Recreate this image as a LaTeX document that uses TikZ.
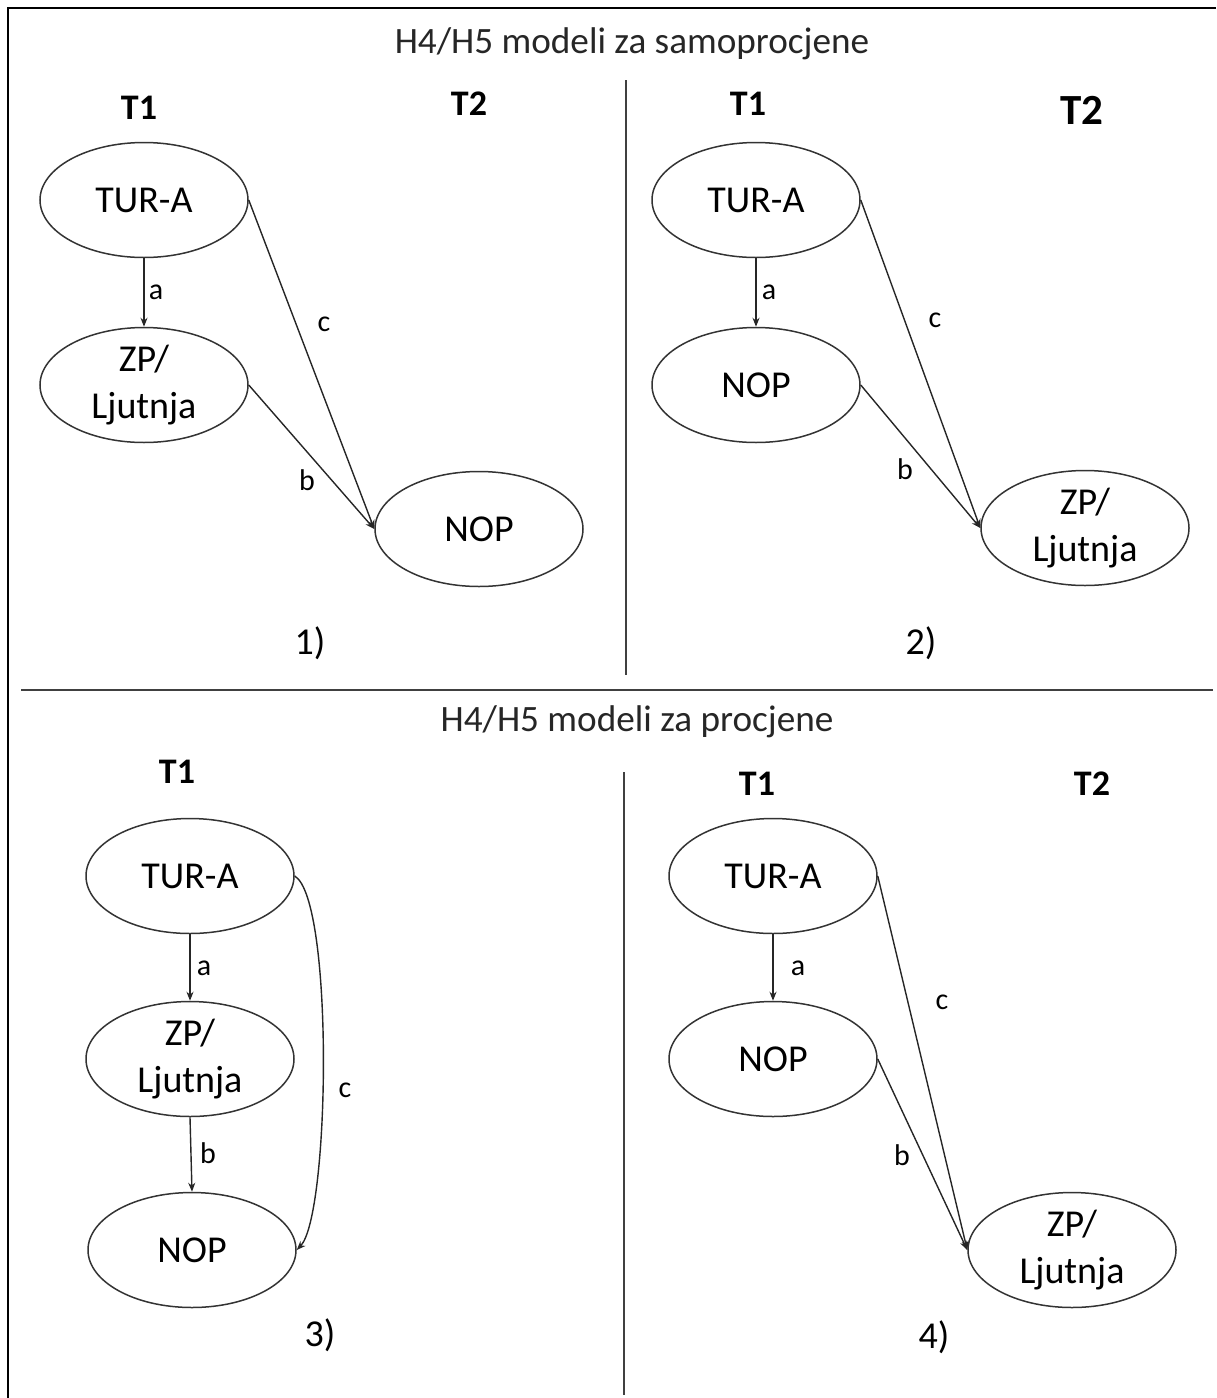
\documentclass[tikz,border=0pt]{standalone}
\usepackage{fontspec}
\setmainfont{Carlito}
\usetikzlibrary{shapes.geometric,arrows.meta}
\tikzset{
  ell/.style={ellipse,draw=black!80,line width=0.75pt,minimum width=104pt,minimum height=57.5pt,inner sep=0pt,align=center,font=\fontsize{19}{23.5}\selectfont},
  arr/.style={draw=black!85,line width=0.7pt,-{Stealth[length=4.5pt,width=3.5pt]}},
  lab/.style={font=\fontsize{15}{17}\selectfont},
  tlab/.style={font=\fontsize{18}{20}\selectfont\bfseries},
  ttl/.style={font=\fontsize{18.6}{22}\selectfont,text=black!85},
  num/.style={font=\fontsize{19}{22}\selectfont},
  frame/.style={line width=1.1pt,black},
  divider/.style={line width=0.8pt,black!75}
}
\begin{document}
\begin{tikzpicture}[x=0.5pt,y=-0.5pt]
\useasboundingbox (0,0) rectangle (1216,1398);
% frame
\draw[frame] (8,1398) -- (8,8) -- (1216,8);
\draw[divider] (21,690) -- (1213,690);
\draw[divider] (626,80) -- (626,675);
\draw[divider] (624,772) -- (624,1395);
% titles
\node[ttl] (title1) at (632,44) {H4/H5 modeli za samoprocjene};
\node[ttl] (title2) at (637,722) {H4/H5 modeli za procjene};

% Panel 1
\node[tlab] (p1t1) at (139,108) {T1};
\node[tlab] (p1t2) at (469,104) {T2};
\node[ell] (p1tur) at (144,200) {TUR-A};
\node[ell] (p1zp) at (144,385) {ZP/\\Ljutnja};
\node[ell] (p1nop) at (479,529) {NOP};
\draw[arr] (p1tur.south) -- (p1zp.north);
\draw[arr] (p1tur.east) -- (p1nop.west);
\draw[arr] (p1zp.east) -- (p1nop.west);
\node[lab] (p1a) at (156,292) {a};
\node[lab] (p1c) at (324,324) {c};
\node[lab] (p1b) at (307,480) {b};
\node[num] (p1n) at (310,643) {1)};

% Panel 2
\node[tlab] (p2t1) at (748,104) {T1};
\node[tlab,font=\fontsize{21.5}{24}\selectfont\bfseries] (p2t2) at (1082,110) {T2};
\node[ell] (p2tur) at (756,200) {TUR-A};
\node[ell] (p2nop) at (756,385) {NOP};
\node[ell] (p2zp) at (1085,528) {ZP/\\Ljutnja};
\draw[arr] (p2tur.south) -- (p2nop.north);
\draw[arr] (p2tur.east) -- (p2zp.west);
\draw[arr] (p2nop.east) -- (p2zp.west);
\node[lab] (p2a) at (769,292) {a};
\node[lab] (p2c) at (935,320) {c};
\node[lab] (p2b) at (905,469) {b};
\node[num] (p2n) at (921,643) {2)};

% Panel 3
\node[tlab] (p3t1) at (177,772) {T1};
\node[ell] (p3tur) at (190,876) {TUR-A};
\node[ell] (p3zp) at (190,1059) {ZP/\\Ljutnja};
\node[ell] (p3nop) at (192,1250) {NOP};
\draw[arr] (p3tur.south) -- (p3zp.north);
\draw[arr] (p3zp.south) -- (p3nop.north);
\draw[arr] (p3tur.east) .. controls (334,900) and (330,1215) .. (p3nop.east);
\node[lab] (p3a) at (204,968) {a};
\node[lab] (p3b) at (208,1153) {b};
\node[lab] (p3c) at (345,1090) {c};
\node[num] (p3n) at (320,1335) {3)};

% Panel 4
\node[tlab] (p4t1) at (757,784) {T1};
\node[tlab] (p4t2) at (1092,784) {T2};
\node[ell] (p4tur) at (773,876) {TUR-A};
\node[ell] (p4nop) at (773,1059) {NOP};
\node[ell] (p4zp) at (1072,1250) {ZP/\\Ljutnja};
\draw[arr] (p4tur.south) -- (p4nop.north);
\draw[arr] (p4tur.east) -- (p4zp.west);
\draw[arr] (p4nop.east) -- (p4zp.west);
\node[lab] (p4a) at (798,968) {a};
\node[lab] (p4c) at (942,1002) {c};
\node[lab] (p4b) at (902,1155) {b};
\node[num] (p4n) at (934,1337) {4)};
\end{tikzpicture}
\end{document}
